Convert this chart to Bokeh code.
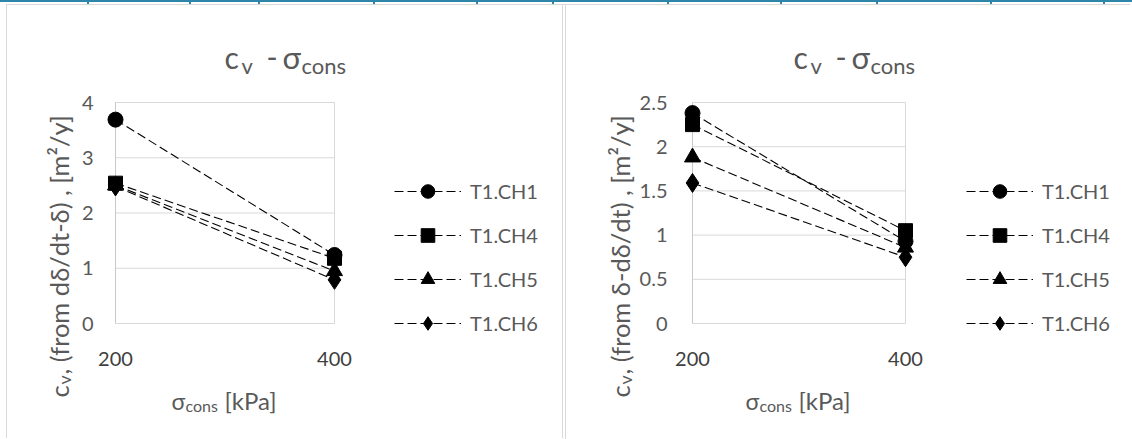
import math
from bokeh.plotting import figure
from bokeh.models import (Range1d, FixedTicker, Label, Legend, LegendItem, Div,
                          CustomJSTickFormatter)
from bokeh.layouts import row, column
from bokeh.embed import file_html
from bokeh.resources import INLINE

# ---------------- data ----------------
sigma = [200, 400]
series_names = ["T1.CH1", "T1.CH4", "T1.CH5", "T1.CH6"]
markers = ["circle", "square", "triangle", "diamond"]
marker_sizes = [15, 14, 16, 19]

left_ch1 = [3.69, 1.24]
left_ch4 = [2.54, 1.18]
left_ch5 = [2.50, 0.95]
left_ch6 = [2.48, 0.79]

right_ch1 = [2.38, 0.93]
right_ch4 = [2.25, 1.05]
right_ch5 = [1.88, 0.86]
right_ch6 = [1.59, 0.75]

left_yticks = [0, 1, 2, 3, 4]
right_yticks = [0, 0.5, 1, 1.5, 2, 2.5]
xticks = [200, 400]

title_main = "c"
title_sub = "v"
title_mid = "-"
title_sigma = "σ"
title_sub2 = "cons"
xtitle_sigma = "σ"
xtitle_sub = "cons"
xtitle_rest = "[kPa]"
ytitle_c = "c"
ytitle_sub = "v"
left_ytitle_rest = " , (from dδ/dt-δ) , [m²/y]"
right_ytitle_rest = " , (from δ-dδ/dt) , [m²/y]"

FONT = "Lato"
TXT = "#595959"
GRID = "#d9d9d9"
BLUE = "#2e86ab"


def make_panel(values, yticks, ymax, ytitle_rest, cx, content_w, border_left, ax200, ax400,
               ystandoff, title_x, xt_x, yt_x, legend_x, styles, transparent=False):
    cy = 5
    height = 434
    border_top = 30
    y0_page, ytop_page = 323, 102
    xlabel_base_page = 365
    frame_left = cx + border_left
    frame_right = cx + content_w
    frame_top = cy + border_top
    frame_bottom = cy + height
    ppx = (ax400 - ax200) / 200.0
    ppy = (y0_page - ytop_page) / ymax
    xr = Range1d(200 - (ax200 - frame_left) / ppx, 400 + (frame_right - ax400) / ppx)
    yr = Range1d(0 - (frame_bottom - y0_page) / ppy, ymax + (ytop_page - frame_top) / ppy)

    p = figure(width=content_w, height=height, x_range=xr, y_range=yr,
               x_axis_location="above",
               output_backend="svg", toolbar_location=None,
               min_border_left=border_left, min_border_top=border_top,
               min_border_right=0, min_border_bottom=0,
               outline_line_color=None, styles=styles)
    if transparent:
        p.background_fill_alpha = 0
        p.border_fill_alpha = 0
    else:
        p.background_fill_color = "white"
        p.border_fill_color = "white"
    p.xgrid.visible = False
    p.ygrid.visible = False

    # axes: y axis at x=200, x tick labels sitting under the plot area
    p.xaxis.ticker = FixedTicker(ticks=xticks)
    p.yaxis.ticker = FixedTicker(ticks=yticks)
    p.yaxis.formatter = CustomJSTickFormatter(code="return String(tick)")
    p.xaxis.fixed_location = -(xlabel_base_page - y0_page) / ppy
    p.yaxis.fixed_location = xticks[0]
    for ax in (p.xaxis[0], p.yaxis[0]):
        ax.axis_line_color = None
        ax.major_tick_line_color = None
        ax.minor_tick_line_color = None
        ax.major_tick_out = 0
        ax.major_tick_in = 0
        ax.minor_tick_out = 0
        ax.major_label_text_font = FONT
        ax.major_label_text_font_size = "20px"
    p.xaxis.major_label_text_color = "#404040"
    p.yaxis.major_label_text_color = TXT
    p.xaxis.major_label_standoff = 0
    p.yaxis.major_label_standoff = ystandoff

    # gridlines
    n = len(yticks)
    p.segment(x0=[xticks[0]] * n, x1=[xticks[-1]] * n, y0=yticks, y1=yticks,
              line_color=GRID, line_width=1)
    p.segment(x0=[xticks[-1]], x1=[xticks[-1]], y0=[yticks[0]], y1=[yticks[-1]],
              line_color=GRID, line_width=1)
    p.segment(x0=[xticks[0]], x1=[xticks[0]], y0=[yticks[0]], y1=[yticks[-1]],
              line_color="#c8c8c8", line_width=1)

    items = []
    for name, mk, ms, ys in zip(series_names, markers, marker_sizes, values):
        lr = p.line(sigma, ys, line_color="black", line_width=1.1, line_dash="9 4")
        sr = p.scatter(sigma, ys, marker=mk, size=ms, fill_color="black", line_color="black")
        items.append(LegendItem(label=name, renderers=[lr, sr]))

    gh = 34
    sp = 10
    leg_h = 4 * gh + 3 * sp
    leg_top = 191 - gh / 2
    legend = Legend(items=items, location=(legend_x - frame_left, frame_bottom - (leg_top + leg_h)),
                    glyph_width=67, glyph_height=gh, label_height=gh, spacing=sp,
                    label_standoff=9, padding=0, margin=0,
                    border_line_color=None, background_fill_alpha=0,
                    label_text_font=FONT, label_text_font_size="20px",
                    label_text_color=TXT)
    p.add_layout(legend)

    def lab(text, px, py, size, angle=0.0):
        p.add_layout(Label(x=px - frame_left, y=frame_bottom - py, x_units="screen", y_units="screen",
                           text=text, text_font=FONT, text_font_size=size, text_color=TXT,
                           text_align="left", text_baseline="alphabetic", angle=angle))

    # chart title
    tb, ts = 56, 65
    lab(title_main, title_x, tb, "30px")
    lab(title_sub, title_x + 17, ts, "22px")
    lab(title_mid, title_x + 42, tb, "30px")
    lab(title_sigma, title_x + 58, tb, "31px")
    lab(title_sub2, title_x + 77, ts, "22px")

    # x axis title
    lab(xtitle_sigma, xt_x, 400, "23px")
    lab(xtitle_sub, xt_x + 14, 405, "16px")
    lab(xtitle_rest, xt_x + 53, 400, "24px")

    # y axis title (rotated)
    a = math.pi / 2
    lab(ytitle_c, yt_x, 397, "25.5px", a)
    lab(ytitle_sub, yt_x + 5, 384, "18px", a)
    lab(ytitle_rest, yt_x, 374, "25.5px", a)
    return p


left = make_panel([left_ch1, left_ch4, left_ch5, left_ch6], left_yticks, 4, left_ytitle_rest,
                  cx=7, content_w=557, border_left=38, ax200=115, ax400=334, ystandoff=22,
                  title_x=224, xt_x=171, yt_x=58, legend_x=394,
                  styles={"border-top": "1px solid #d9d9d9", "border-left": "1px solid #d9d9d9",
                          "border-right": "1px solid #d9d9d9"})
right = make_panel([right_ch1, right_ch4, right_ch5, right_ch6], right_yticks, 2.5, right_ytitle_rest,
                   cx=500, content_w=632, border_left=60, ax200=694, ax400=907, ystandoff=25,
                   title_x=795, xt_x=747, yt_x=621, legend_x=968,
                   styles={"border-top": "1px solid #d9d9d9"}, transparent=True)
right.margin = (0, 0, 0, -68)

divider = Div(text="", width=1, height=435, margin=(0, 0, 0, 2),
              styles={"background-color": GRID})

# thin blue table rule above the charts (page decoration), drawn with CSS backgrounds
rule_ticks = [87, 189, 258, 373, 476, 552, 667, 780, 876, 990, 1103]
layers = [f"linear-gradient({BLUE},{BLUE})"] * (1 + len(rule_ticks))
sizes = ["1132px 2px"] + ["2px 4px"] * len(rule_ticks)
positions = ["0px 0px"] + [f"{t}px 0px" for t in rule_ticks]
topline = Div(text="", width=1132, height=4, margin=0,
              styles={"background-image": ", ".join(layers),
                      "background-size": ", ".join(sizes),
                      "background-position": ", ".join(positions),
                      "background-repeat": "no-repeat"})
panels = row(left, divider, right, spacing=0, margin=(0, 0, 0, 6))
layout = column(topline, panels, spacing=0, margin=0)

open("out.html", "w").write(file_html(layout, INLINE))
